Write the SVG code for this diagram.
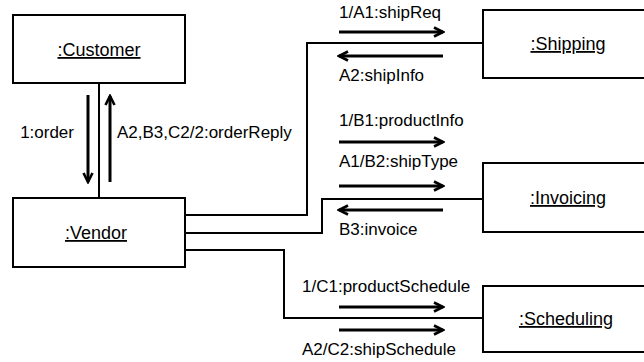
<svg xmlns="http://www.w3.org/2000/svg" width="644" height="362" viewBox="0 0 644 362">
<style>
.box{fill:#fff;stroke:#000;stroke-width:2}
.lbl{font-family:"Liberation Sans",Arial,sans-serif;font-size:18px;text-anchor:middle;text-decoration:underline;fill:#000}
.msg{font-family:"Liberation Sans",Arial,sans-serif;font-size:17px;fill:#000}
.conn{fill:none;stroke:#000;stroke-width:2}
.arr{fill:none;stroke:#000;stroke-width:3;marker-end:url(#ah)}
</style>
<defs>
<marker id="ah" viewBox="0 0 12 12" refX="10" refY="6" markerWidth="12" markerHeight="12" markerUnits="userSpaceOnUse" orient="auto">
<path d="M1,1.5 L10,6 L1,10.5" fill="none" stroke="#000" stroke-width="2.6"/>
</marker>
</defs>
<rect width="644" height="362" fill="#fff"/>
<g id="connectors">
<path class="conn" d="M99,83 V198"/>
<path class="conn" d="M185,215 H307 V43 H483"/>
<path class="conn" d="M185,233 H322 V199 H483"/>
<path class="conn" d="M185,250 H284 V318 H483"/>
</g>
<g id="messages">
<line class="arr" x1="88" y1="95" x2="88" y2="182"/>
<line class="arr" x1="110" y1="182" x2="110" y2="96"/>
<text class="msg" x="74" y="138" text-anchor="end">1:order</text>
<text class="msg" x="117" y="138">A2,B3,C2/2:orderReply</text>
<line class="arr" x1="339" y1="32" x2="443" y2="32"/>
<line class="arr" x1="443" y1="56" x2="339" y2="56"/>
<text class="msg" x="339" y="18">1/A1:shipReq</text>
<text class="msg" x="339" y="81">A2:shipInfo</text>
<line class="arr" x1="339" y1="142" x2="443" y2="142"/>
<text class="msg" x="339" y="126">1/B1:productInfo</text>
<line class="arr" x1="339" y1="186" x2="443" y2="186"/>
<text class="msg" x="339" y="167">A1/B2:shipType</text>
<line class="arr" x1="443" y1="210" x2="339" y2="210"/>
<text class="msg" x="339" y="235">B3:invoice</text>
<line class="arr" x1="339" y1="307" x2="443" y2="307"/>
<line class="arr" x1="339" y1="330" x2="443" y2="330"/>
<text class="msg" x="302" y="292">1/C1:productSchedule</text>
<text class="msg" x="302" y="355">A2/C2:shipSchedule</text>
</g>
<g id="customer">
<rect class="box" x="13" y="15" width="172" height="68"/>
<text class="lbl" x="99" y="56">:Customer</text>
</g>
<g id="vendor">
<rect class="box" x="13" y="198" width="172" height="69"/>
<text class="lbl" x="96" y="239">:Vendor</text>
</g>
<g id="shipping">
<rect class="box" x="483" y="10" width="180" height="68"/>
<text class="lbl" x="568" y="50">:Shipping</text>
</g>
<g id="invoicing">
<rect class="box" x="483" y="163" width="180" height="69"/>
<text class="lbl" x="568" y="204">:Invoicing</text>
</g>
<g id="scheduling">
<rect class="box" x="483" y="286" width="180" height="66"/>
<text class="lbl" x="566" y="325">:Scheduling</text>
</g>
</svg>
